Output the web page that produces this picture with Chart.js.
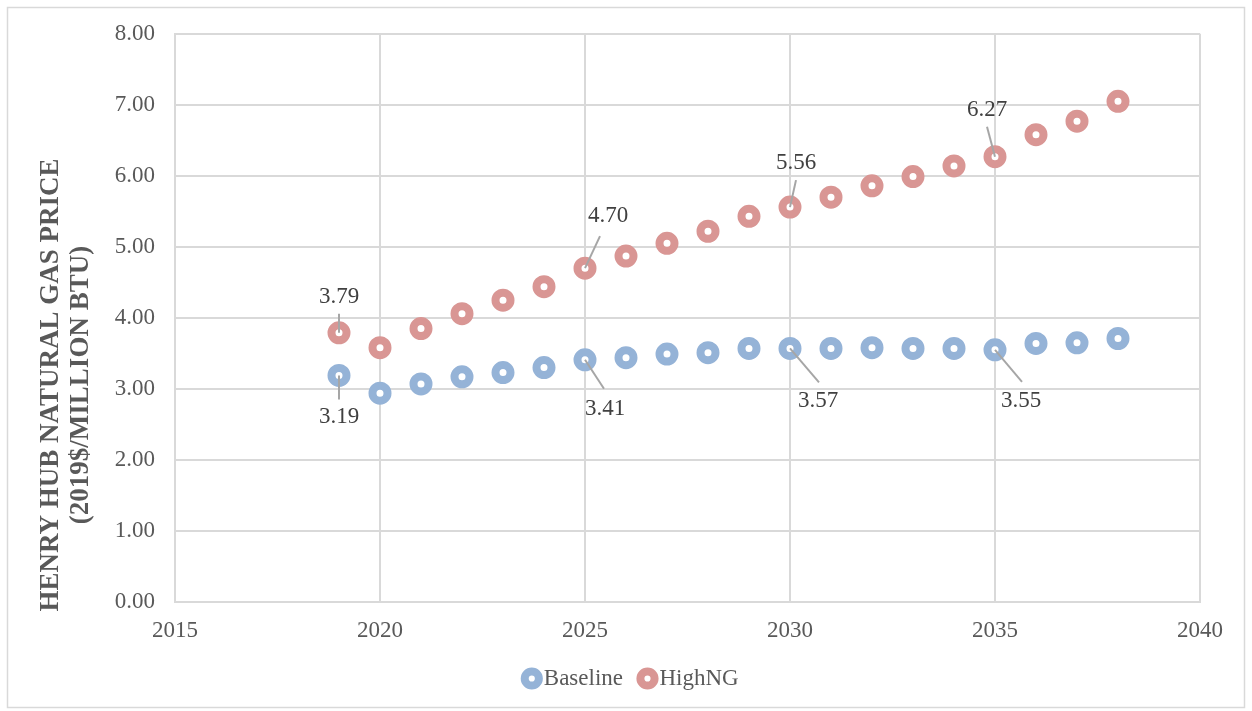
<!DOCTYPE html>
<html>
<head>
<meta charset="utf-8">
<script src="https://cdn.jsdelivr.net/npm/chart.js@4.4.1/dist/chart.umd.min.js"></script>
<style>
  html, body { margin: 0; padding: 0; background: #fff; }
  #wrap { width: 1252px; height: 711px; position: relative; }
</style>
</head>
<body>
<div id="wrap"><canvas id="grafico"></canvas></div>
<script>
// anos da projeção
const anos = [2019, 2020, 2021, 2022, 2023, 2024, 2025, 2026, 2027, 2028,
              2029, 2030, 2031, 2032, 2033, 2034, 2035, 2036, 2037, 2038];

// preço Henry Hub (2019$/MMBtu)
const baseline = [3.19, 2.94, 3.07, 3.17, 3.23, 3.30, 3.41, 3.44, 3.49, 3.51,
                  3.57, 3.57, 3.57, 3.58, 3.57, 3.57, 3.55, 3.64, 3.65, 3.71];
const highNG = [3.79, 3.58, 3.85, 4.06, 4.25, 4.44, 4.70, 4.87, 5.05, 5.22,
                5.43, 5.56, 5.70, 5.86, 5.99, 6.14, 6.27, 6.58, 6.77, 7.05];

const nomesSeries = ['Baseline', 'HighNG'];
const xTicks = [2015, 2020, 2025, 2030, 2035, 2040];
const yTicks = [0, 1, 2, 3, 4, 5, 6, 7, 8];
const tituloY = ['HENRY HUB NATURAL GAS PRICE', '(2019$/MILLION BTU)'];

// rótulos de valor: série, ano, deslocamento do texto e ponta da linha guia
const rotulos = [
  { ds: 1, ano: 2019, tx: 0,  ty: -36, lx: 0,  ly: -19 },
  { ds: 0, ano: 2019, tx: 0,  ty: 42,  lx: 0,  ly: 24 },
  { ds: 1, ano: 2025, tx: 23, ty: -52, lx: 15, ly: -32 },
  { ds: 0, ano: 2025, tx: 20, ty: 49,  lx: 19, ly: 29 },
  { ds: 1, ano: 2030, tx: 6,  ty: -44, lx: 6,  ly: -27 },
  { ds: 0, ano: 2030, tx: 28, ty: 53,  lx: 29, ly: 34 },
  { ds: 1, ano: 2035, tx: -8, ty: -47, lx: -8, ly: -30 },
  { ds: 0, ano: 2035, tx: 26, ty: 51,  lx: 27, ly: 32 }
];

const fonte = '"Liberation Serif", "Times New Roman", serif';

function pontos(valores) {
  return anos.map((a, i) => ({ x: a, y: valores[i] }));
}

// moldura externa do gráfico
const moldura = {
  id: 'moldura',
  beforeDraw(chart) {
    const ctx = chart.ctx;
    ctx.save();
    ctx.strokeStyle = '#D9D9D9';
    ctx.lineWidth = 1.5;
    ctx.strokeRect(7.5, 7.5, 1237, 700);
    ctx.restore();
  }
};

// título do eixo Y em duas linhas, girado
const tituloEixoY = {
  id: 'tituloEixoY',
  afterDraw(chart) {
    const ctx = chart.ctx;
    ctx.save();
    ctx.translate(0, 385);
    ctx.rotate(-Math.PI / 2);
    ctx.fillStyle = '#595959';
    ctx.font = 'bold 27px ' + fonte;
    ctx.textAlign = 'center';
    ctx.textBaseline = 'middle';
    ctx.fillText(tituloY[0], 0, 51);
    ctx.fillText(tituloY[1], 0, 81);
    ctx.restore();
  }
};

// rótulos de dados com linha guia
const rotulosDados = {
  id: 'rotulosDados',
  afterDatasetsDraw(chart) {
    const ctx = chart.ctx;
    ctx.save();
    rotulos.forEach(r => {
      const idx = anos.indexOf(r.ano);
      const el = chart.getDatasetMeta(r.ds).data[idx];
      const valor = chart.data.datasets[r.ds].data[idx].y;
      ctx.strokeStyle = '#A6A6A6';
      ctx.lineWidth = 2;
      ctx.beginPath();
      ctx.moveTo(el.x, el.y);
      ctx.lineTo(el.x + r.lx, el.y + r.ly);
      ctx.stroke();
      ctx.fillStyle = '#404040';
      ctx.font = '23px ' + fonte;
      ctx.textAlign = 'center';
      ctx.textBaseline = 'middle';
      ctx.fillText(valor.toFixed(2), el.x + r.tx, el.y + r.ty);
    });
    ctx.restore();
  }
};

const ctx1 = document.getElementById('grafico').getContext('2d');
new Chart(ctx1, {
  type: 'scatter',
  data: {
    datasets: [{
      label: nomesSeries[0],
      data: pontos(baseline),
      backgroundColor: '#FFFFFF',
      borderColor: '#95B3D7',
      borderWidth: 8,
      pointRadius: 7.5,
      pointHoverRadius: 7.5
    }, {
      label: nomesSeries[1],
      data: pontos(highNG),
      backgroundColor: '#FFFFFF',
      borderColor: '#D99694',
      borderWidth: 8,
      pointRadius: 7.5,
      pointHoverRadius: 7.5
    }]
  },
  options: {
    responsive: true,
    maintainAspectRatio: false,
    animation: false,
    layout: { padding: { left: 70, right: 52, top: 22, bottom: 11 } },
    scales: {
      x: {
        type: 'linear',
        min: 2015,
        max: 2040,
        afterBuildTicks: s => { s.ticks = xTicks.map(v => ({ value: v })); },
        afterFit: s => { s.height = 41; },
        ticks: {
          color: '#595959',
          font: { family: fonte, size: 23 },
          padding: 15,
          callback: v => String(v)
        },
        grid: { color: '#D9D9D9', lineWidth: 2, drawTicks: false },
        border: { display: true, color: '#D9D9D9', width: 2 }
      },
      y: {
        min: 0,
        max: 8,
        afterBuildTicks: s => { s.ticks = yTicks.map(v => ({ value: v })); },
        afterFit: s => { s.width = 105; },
        ticks: {
          color: '#595959',
          font: { family: fonte, size: 23 },
          padding: 20,
          callback: v => v.toFixed(2)
        },
        grid: { color: '#D9D9D9', lineWidth: 2, drawTicks: false },
        border: { display: true, color: '#D9D9D9', width: 2 }
      }
    },
    plugins: {
      legend: {
        position: 'bottom',
        labels: {
          usePointStyle: true,
          pointStyle: 'circle',
          boxWidth: 1,
          boxHeight: 10,
          padding: 24,
          color: '#595959',
          font: { family: fonte, size: 23 }
        }
      },
      tooltip: { enabled: false }
    }
  },
  plugins: [moldura, tituloEixoY, rotulosDados]
});
</script>
</body>
</html>
